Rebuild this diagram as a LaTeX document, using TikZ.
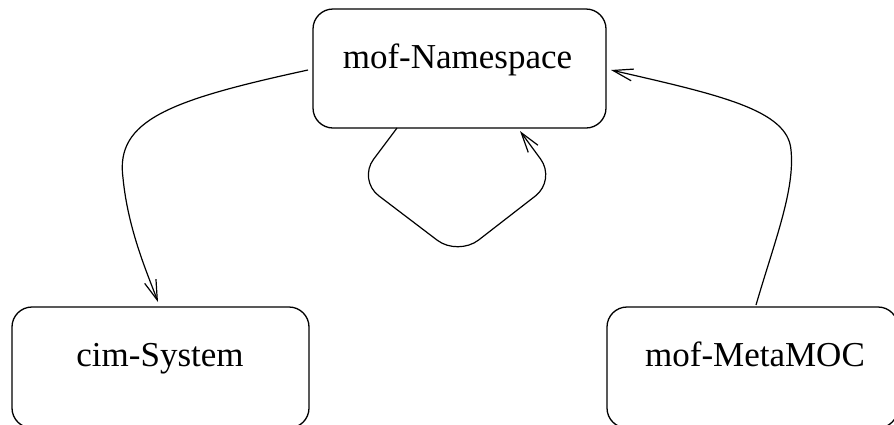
\documentclass[tikz,border=0pt]{standalone}
\usepackage{fontspec}
\setmainfont{Liberation Serif}
\usetikzlibrary{arrows.meta}
\begin{document}
\begin{tikzpicture}[x=1pt,y=-1pt,
  box/.style={draw, line width=1.3pt, rounded corners=20pt, inner sep=0pt},
  lbl/.style={font=\fontsize{35}{40}\selectfont, anchor=base, inner sep=0pt},
  conn/.style={line width=1.2pt, -{Straight Barb[length=20pt,width=12pt,line width=1.2pt]}}]
\useasboundingbox (0,0) rectangle (894,424);
% boxes
\node[box, minimum width=293pt, minimum height=119pt] (ns) at (459.5,68.5) {};
\node[box, minimum width=297pt, minimum height=121pt] (cs) at (160.5,367.5) {};
\node[box, minimum width=291pt, minimum height=121pt] (mm) at (752.5,367.5) {};
% labels
\node[lbl] (nsl) at (457.5,68) {mof-Namespace};
\node[lbl] (csl) at (160,366) {cim-System};
\node[lbl] (mml) at (755,366) {mof-MetaMOC};
% anchors for connectors
\coordinate (a1) at (308,70);
\coordinate (a2) at (158,302);
\coordinate (b1) at (397,128);
\coordinate (b2) at (520,131);
\coordinate (c1) at (756,305);
\coordinate (c2) at (611,70);
% connectors
\draw[conn] (a1) .. controls (170,100) and (115,120) .. (123,178)
  .. controls (128,230) and (148,275) .. (a2);
\draw[conn, rounded corners=26pt] (b1) -- (358,180) -- (458,256) -- (556,180) -- (b2);
\draw[conn] (c1) .. controls (775,240) and (795,190) .. (791,150)
  .. controls (788,110) and (720,95) .. (c2);
\end{tikzpicture}
\end{document}
